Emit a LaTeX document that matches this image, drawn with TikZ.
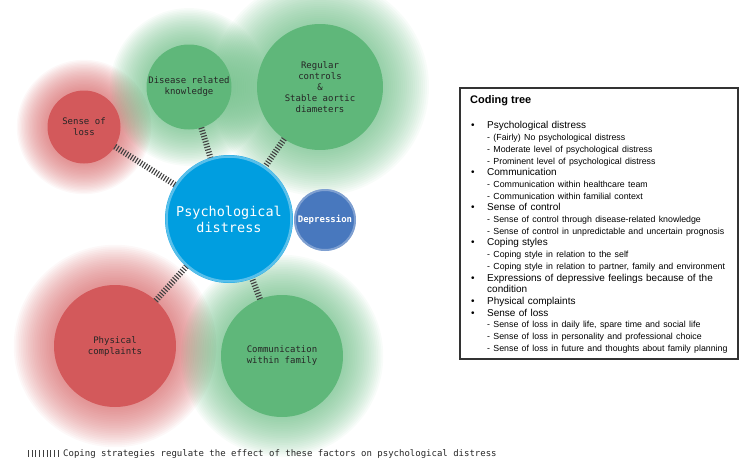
\documentclass[tikz,border=0pt]{standalone}
\usepackage{fontspec}
\setmainfont{Liberation Sans}
\setmonofont{DejaVu Sans Mono}
\usetikzlibrary{positioning,backgrounds}
\definecolor{lossred}{RGB}{211,89,91}
\definecolor{ctrlgreen}{RGB}{95,183,122}
\definecolor{pdblue}{RGB}{0,158,224}
\definecolor{deprblue}{RGB}{72,120,190}
\definecolor{labelgray}{RGB}{38,38,38}
\tikzset{bubble/.style={circle, inner sep=0, outer sep=0, align=center, text=labelgray, font=\fontsize{9}{11}\selectfont\ttfamily}}
\tikzset{coping/.style={draw=black!75, line width=6pt, dash pattern=on 1.1pt off 1.7pt}}
\newcommand{\glow}[4]{%
  \foreach \k in {1,...,24}
    \fill[#4, fill opacity=0.045] (#1.center) circle[radius={(#2+#3*(1-\k/24))*1pt}];}
\newcommand{\codeitem}[1]{\leavevmode\llap{\textbullet\hspace{12.5pt}}#1}
\newcommand{\codesub}[1]{{\fontsize{8.8}{11.7}\selectfont - #1}}

\begin{document}
\begin{tikzpicture}[x=1pt, y=-1pt]
		\useasboundingbox (0,0) rectangle (742,463);
		
		\node[bubble, fill=lossred, minimum size=73pt] (loss) at (84,127) {Sense of\\loss};
		\node[bubble, fill=ctrlgreen, minimum size=85pt] (knowledge) at (189,87) {Disease related\\knowledge};
		\node[bubble, fill=ctrlgreen, minimum size=126pt] (controls) at (320,87) {Regular\\controls\\\&\\Stable aortic\\diameters};
		\node[bubble, fill=pdblue, minimum size=128pt, text=white, font=\fontsize{13.5}{16}\selectfont\ttfamily] (distress) at (229,219) {Psychological\\distress};
		\node[bubble, fill=deprblue, minimum size=62pt, text=white, font=\fontsize{9}{11}\selectfont\ttfamily\bfseries] (depression) at (325,220) {Depression};
		\node[bubble, fill=lossred, minimum size=122pt] (physical) at (115,346) {Physical\\complaints};
		\node[bubble, fill=ctrlgreen, minimum size=122pt] (family) at (282,356) {Communication\\within family};
		
		\draw[white, opacity=0.35, line width=2.5pt] (distress.center) circle[radius=62.5pt];
		\draw[white, opacity=0.3, line width=2pt] (depression.center) circle[radius=30pt];
		
		\begin{scope}[on background layer]
			\glow{loss}{36.5}{32}{lossred}
			\glow{knowledge}{42.5}{38}{ctrlgreen}
			\glow{controls}{63}{48}{ctrlgreen}
			\glow{physical}{61}{42}{lossred}
			\glow{family}{61}{42}{ctrlgreen}
		\end{scope}
		
		\draw[coping] (loss) -- (distress);
		\draw[coping] (knowledge) -- (distress);
		\draw[coping] (controls) -- (distress);
		\draw[coping] (physical) -- (distress);
		\draw[coping] (family) -- (distress);
		
		% key
		\coordinate (keyL) at (28,453.5);
		\coordinate (keyR) at (61,453.5);
		\draw[coping, line width=7pt, dash pattern=on 1pt off 2.7pt] (keyL) -- (keyR);
		\node[anchor=base west, inner sep=0, text=labelgray, font=\fontsize{9}{11}\selectfont\ttfamily] (key) at (63,456.5) {Coping strategies regulate the effect of these factors on psychological distress};
		
		% coding tree
		\draw[draw=black!80, line width=1.2pt] (460,88) rectangle (738,359);
		\node[anchor=base west, inner sep=0, font=\fontsize{11}{13}\selectfont\bfseries] (title) at (470,103.5) {Coding tree};
		\node[anchor=north west, inner sep=0, text width=250pt, align=left, font=\fontsize{10}{11.7}\selectfont] (codes) at (487,121.5) {%
			\codeitem{Psychological distress}\\
			\codesub{(Fairly) No psychological distress}\\
			\codesub{Moderate level of psychological distress}\\
			\codesub{Prominent level of psychological distress}\\
			\codeitem{Communication}\\
			\codesub{Communication within healthcare team}\\
			\codesub{Communication within familial context}\\
			\codeitem{Sense of control}\\
			\codesub{Sense of control through disease-related knowledge}\\
			\codesub{Sense of control in unpredictable and uncertain prognosis}\\
			\codeitem{Coping styles}\\
			\codesub{Coping style in relation to the self}\\
			\codesub{Coping style in relation to partner, family and environment}\\
			\codeitem{Expressions of depressive feelings because of the}\\
			condition\\
			\codeitem{Physical complaints}\\
			\codeitem{Sense of loss}\\
			\codesub{Sense of loss in daily life, spare time and social life}\\
			\codesub{Sense of loss in personality and professional choice}\\
			\codesub{Sense of loss in future and thoughts about family planning}};
	\end{tikzpicture}
\end{document}
